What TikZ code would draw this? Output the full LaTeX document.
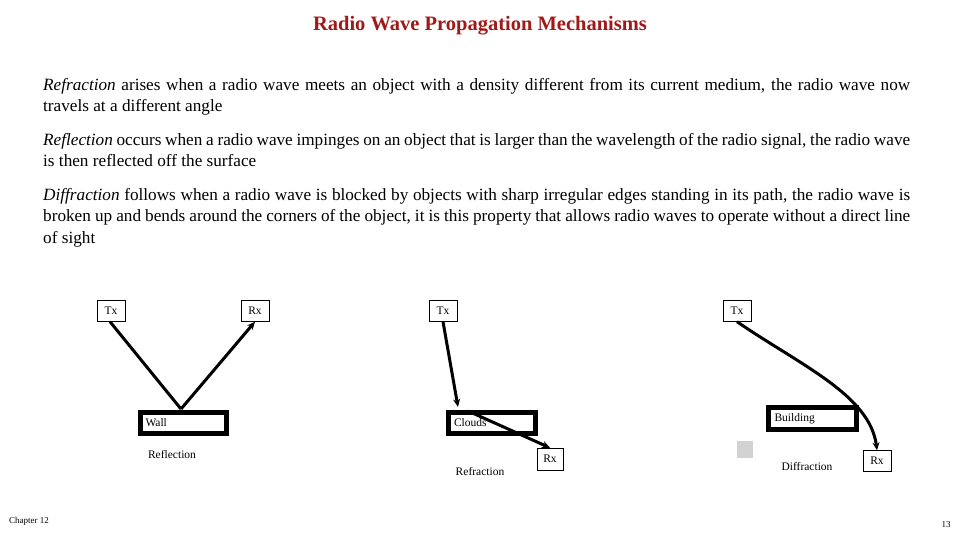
\documentclass[tikz,border=0pt]{standalone}
\usepackage{fontspec}
\setmainfont{Liberation Serif}
\usetikzlibrary{arrows.meta}
\definecolor{titlered}{RGB}{160,25,25}
\begin{document}
\begin{tikzpicture}[x=1pt,y=-1pt,
  lbl/.style={draw,thin,font=\fontsize{11.5}{12}\selectfont,inner sep=0pt,minimum width=28pt,minimum height=21pt},
  obst/.style={draw,line width=5pt,inner sep=0pt,font=\fontsize{11.5}{12}\selectfont,text width=76pt,align=left},
  ray/.style={line width=3pt,-{Stealth[length=8pt,width=7pt]}},
  captext/.style={font=\fontsize{11.5}{12}\selectfont},
  para/.style={anchor=north west,text width=867pt,align=justify,inner sep=0pt,font=\fontsize{17.2}{21.5}\selectfont}]
\useasboundingbox (0,0) rectangle (960,540);
\node[text=titlered,font=\bfseries\fontsize{20.5}{24}\selectfont] (title) at (480,26) {Radio Wave Propagation Mechanisms};
\node[para] (p1) at (43,78) {\textit{Refraction} arises when a radio wave meets an object with a density different from its current medium, the radio wave now travels at a different angle};
\node[para] (p2) at (43,133) {\textit{Reflection} occurs when a radio wave impinges on an object that is larger than the wavelength of the radio signal, the radio wave is then reflected off the surface};
\node[para] (p3) at (43,188) {\textit{Diffraction} follows when a radio wave is blocked by objects with sharp irregular edges standing in its path, the radio wave is broken up and bends around the corners of the object, it is this property that allows radio waves to operate without a direct line of sight};
% reflection
\node[lbl] (tx1) at (111,311) {Tx};
\node[lbl] (rx1) at (255,311) {Rx};
\node[obst,minimum width=86pt,minimum height=21pt] (wall) at (183.5,423) {Wall};
\coordinate (w) at (181,409);
\draw[line width=3pt] (tx1.south) ++(-1,0) -- (w);
\draw[ray] (w) -- (rx1.south);
\node[captext] (refl) at (172,455) {Reflection};
% refraction
\node[lbl] (tx2) at (443,311) {Tx};
\node[obst,minimum width=87pt,minimum height=21pt] (clouds) at (492,423) {Clouds};
\node[lbl,minimum width=26pt,minimum height=22pt] (rx2) at (550,459) {Rx};
\coordinate (c1) at (458,407);
\coordinate (c2) at (468,411);
\draw[ray] (tx2.south) -- (c1);
\draw[ray] (c2) -- (rx2.north);
\node[captext] (refr) at (480,472) {Refraction};
% diffraction
\node[lbl] (tx3) at (737,311) {Tx};
\node[obst,minimum width=88pt,minimum height=22pt] (bld) at (812.5,418.5) {Building};
\node[lbl] (rx3) at (877,461) {Rx};
\draw[ray] (tx3.south) .. controls (800,365) and (870,395) .. (rx3.north);
\fill[gray!35] (737,441) rectangle (753,458);
\node[captext] (diff) at (807,467) {Diffraction};
\node[font=\fontsize{9}{10}\selectfont] (ch) at (29,521) {Chapter 12};
\node[font=\fontsize{9}{10}\selectfont] (pg) at (946,525) {13};
\end{tikzpicture}
\end{document}
